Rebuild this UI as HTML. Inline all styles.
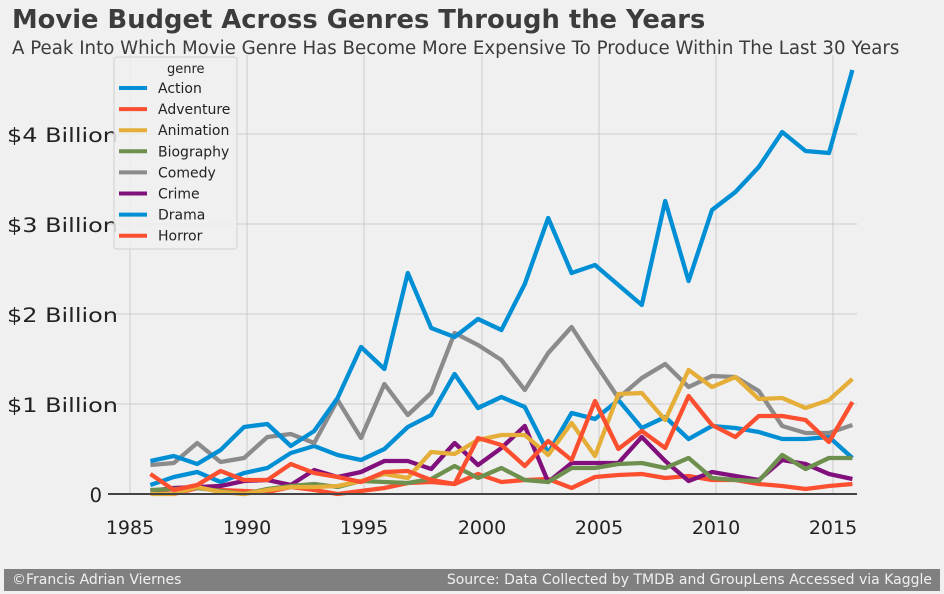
<!DOCTYPE html>
<html><head><meta charset="utf-8"><style>
html,body{margin:0;padding:0;background:#f0f0f0;}
svg{display:block;font-family:"DejaVu Sans","Liberation Sans",sans-serif;}
</style></head><body>
<svg id="s" width="944" height="594" xmlns="http://www.w3.org/2000/svg">
<rect width="944" height="594" fill="#f0f0f0"/>
<text x="12" y="28" font-size="25.8" font-weight="bold" fill="#3c3c3c">Movie Budget Across Genres Through the Years</text>
<text x="12" y="54" font-size="18.2" fill="#3c3c3c">A Peak Into Which Movie Genre Has Become More Expensive To Produce Within The Last 30 Years</text>
<g stroke="#cbcbcb" stroke-width="1">
<line x1="130" y1="55" x2="130" y2="494"/><line x1="247" y1="55" x2="247" y2="494"/><line x1="364" y1="55" x2="364" y2="494"/><line x1="482" y1="55" x2="482" y2="494"/><line x1="599" y1="55" x2="599" y2="494"/><line x1="716" y1="55" x2="716" y2="494"/><line x1="833" y1="55" x2="833" y2="494"/>
<line x1="108" y1="134" x2="857" y2="134"/><line x1="108" y1="224" x2="857" y2="224"/><line x1="108" y1="314" x2="857" y2="314"/><line x1="108" y1="404" x2="857" y2="404"/>
</g>
<g font-size="19.5" fill="#222">
<text x="7" y="142" textLength="111" lengthAdjust="spacingAndGlyphs">$4 Billion</text>
<text x="7" y="232" textLength="111" lengthAdjust="spacingAndGlyphs">$3 Billion</text>
<text x="7" y="322" textLength="111" lengthAdjust="spacingAndGlyphs">$2 Billion</text>
<text x="7" y="412" textLength="111" lengthAdjust="spacingAndGlyphs">$1 Billion</text>
<text x="102" y="502" text-anchor="end">0</text>
</g>
<g font-size="19" fill="#222" text-anchor="middle">
<text x="130" y="534">1985</text><text x="247" y="534">1990</text><text x="364" y="534">1995</text><text x="482" y="534">2000</text><text x="599" y="534">2005</text><text x="716" y="534">2010</text><text x="833" y="534">2015</text>
</g>
<g id="lines" fill="none" stroke-width="4.3" stroke-linejoin="round"></g>
<line x1="108" y1="494" x2="857" y2="494" stroke="#444" stroke-width="2"/>
<rect x="114" y="57" width="123" height="192" rx="3" fill="#f0f0f0" fill-opacity="0.85" stroke="#d0d0d0"/>
<text x="167" y="73" font-size="13" fill="#222">genre</text>
<g id="leg" font-size="14" fill="#222"></g>
<rect x="4" y="569" width="936" height="22" fill="#808080"/>
<text x="12" y="584" font-size="14" fill="#f0f0f0">©Francis Adrian Viernes</text>
<text x="932" y="584" font-size="14" fill="#f0f0f0" text-anchor="end">Source: Data Collected by TMDB and GroupLens Accessed via Kaggle</text>
</svg>
<script>
var S=[
["Action","#008fd5",[461,456,464,450,427,424,446,431,398,347,369,273,328,337,319,330,284,218,273,265,285,305,201,281,210,192,167,132,151,153,70]],
["Adventure","#fc4f30",[474,490,485,471,480,480,464,473,477,482,472,471,480,484,438,445,466,441,460,401,449,431,448,396,425,437,416,416,420,442,402]],
["Animation","#e5ae38",[494,494,487,492,494,490,487,487,486,481,474,478,452,454,440,435,435,455,423,456,394,393,420,370,387,377,399,398,408,400,379]],
["Biography","#6d904f",[490,489,488,491,494,489,486,484,487,481,482,483,479,466,478,468,480,482,468,468,464,463,468,458,478,480,481,455,469,458,458]],
["Comedy","#8b8b8b",[465,463,443,462,458,437,434,443,400,438,384,415,393,333,345,360,390,353,327,363,398,378,364,387,376,377,391,426,433,433,425]],
["Crime","#810f7c",[491,488,487,486,481,480,485,470,477,472,461,461,469,443,465,448,426,482,463,463,463,437,461,481,472,476,480,460,464,474,479]],
["Drama","#008fd5",[485,477,472,482,473,468,453,446,455,460,449,427,415,374,408,397,407,453,413,419,400,428,417,439,426,428,432,439,439,437,458]],
["Horror","#fc4f30",[492,494,488,490,491,492,487,490,494,491,488,483,482,484,474,482,480,479,488,477,475,474,478,476,480,480,484,486,489,486,484]]];
var ns="http://www.w3.org/2000/svg",g=document.getElementById("lines"),lg=document.getElementById("leg");
var order=[7,6,5,4,3,2,1,0];
order.forEach(function(i){var s=S[i];var p=s[2].map(function(y,k){return (150.4+23.4*k).toFixed(1)+","+y}).join(" ");
var e=document.createElementNS(ns,"polyline");e.setAttribute("points",p);e.setAttribute("stroke",s[1]);g.appendChild(e);});
S.forEach(function(s,i){var y=88+21.1*i;var l=document.createElementNS(ns,"line");l.setAttribute("x1",119);l.setAttribute("x2",147);l.setAttribute("y1",y);l.setAttribute("y2",y);l.setAttribute("stroke",s[1]);l.setAttribute("stroke-width",4);lg.appendChild(l);
var t=document.createElementNS(ns,"text");t.setAttribute("x",158);t.setAttribute("y",y+5);t.textContent=s[0];lg.appendChild(t);});
</script>
</body></html>
